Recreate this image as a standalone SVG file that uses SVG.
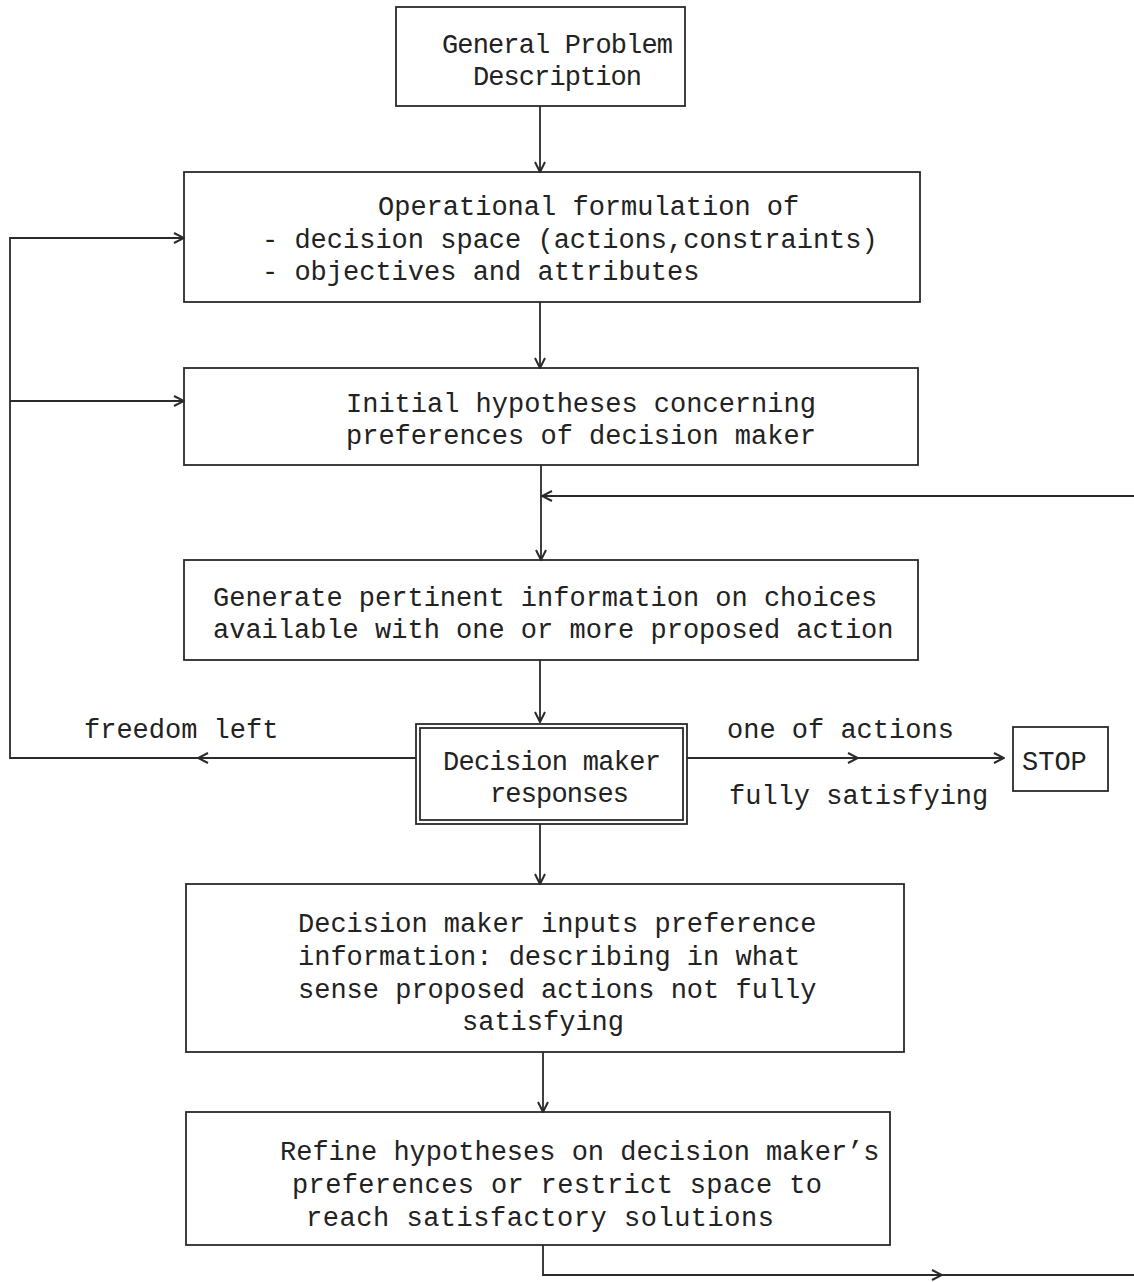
<svg xmlns="http://www.w3.org/2000/svg" width="1134" height="1282" viewBox="0 0 1134 1282">
<style>
.box{fill:none;stroke:#2a2a2a;stroke-width:1.8}
.ln{fill:none;stroke:#2a2a2a;stroke-width:1.8}
text{font-family:"Liberation Mono","Courier New",monospace;font-size:27px;fill:#222}
</style>
<defs>
<marker id="ah" viewBox="0 0 12 12" refX="11" refY="6" markerWidth="12" markerHeight="12" markerUnits="userSpaceOnUse" orient="auto">
<path d="M1,1 L11,6 L1,11" fill="none" stroke="#2a2a2a" stroke-width="2"/>
</marker>
</defs>
<rect width="1134" height="1282" fill="#fff"/>
<g id="connectors">
<line class="ln" x1="540" y1="106" x2="540" y2="172" marker-end="url(#ah)"/>
<line class="ln" x1="540" y1="302" x2="540" y2="368" marker-end="url(#ah)"/>
<line class="ln" x1="541" y1="465" x2="541" y2="560" marker-end="url(#ah)"/>
<line class="ln" x1="1134" y1="496" x2="542" y2="496" marker-end="url(#ah)"/>
<line class="ln" x1="540" y1="660" x2="540" y2="722" marker-end="url(#ah)"/>
<line class="ln" x1="416" y1="758" x2="198" y2="758" marker-end="url(#ah)"/>
<polyline class="ln" points="200,758 10,758 10,238 184,238" marker-end="url(#ah)"/>
<line class="ln" x1="10" y1="401" x2="184" y2="401" marker-end="url(#ah)"/>
<line class="ln" x1="687" y1="758" x2="858" y2="758" marker-end="url(#ah)"/>
<line class="ln" x1="856" y1="758" x2="1004" y2="758" marker-end="url(#ah)"/>
<line class="ln" x1="540" y1="824" x2="540" y2="884" marker-end="url(#ah)"/>
<line class="ln" x1="543" y1="1052" x2="543" y2="1112" marker-end="url(#ah)"/>
<polyline class="ln" points="543,1245 543,1275 942,1275" marker-end="url(#ah)"/>
<line class="ln" x1="940" y1="1275" x2="1134" y2="1275"/>
</g>
<g id="general-problem">
<rect class="box" x="396" y="7" width="289" height="99"/>
<text x="442" y="53" textLength="231">General Problem</text>
<text x="473" y="85" textLength="169">Description</text>
</g>
<g id="operational-formulation">
<rect class="box" x="184" y="172" width="736" height="130"/>
<text x="378" y="215">Operational formulation of</text>
<text x="262" y="248">- decision space (actions,constraints)</text>
<text x="262" y="280">- objectives and attributes</text>
</g>
<g id="initial-hypotheses">
<rect class="box" x="184" y="368" width="734" height="97"/>
<text x="346" y="412">Initial hypotheses concerning</text>
<text x="346" y="444">preferences of decision maker</text>
</g>
<g id="generate-information">
<rect class="box" x="184" y="560" width="734" height="100"/>
<text x="213" y="606">Generate pertinent information on choices</text>
<text x="213" y="638">available with one or more proposed action</text>
</g>
<g id="dm-responses">
<rect class="box" x="416" y="724" width="271" height="100"/>
<rect class="box" x="420" y="728" width="263" height="92"/>
<text x="443" y="770" textLength="218">Decision maker</text>
<text x="490" y="802" textLength="139">responses</text>
</g>
<g id="stop">
<rect class="box" x="1013" y="727" width="95" height="64"/>
<text x="1022" y="770">STOP</text>
</g>
<g id="labels">
<text x="84" y="738">freedom left</text>
<text x="727" y="738">one of actions</text>
<text x="729" y="804">fully satisfying</text>
</g>
<g id="dm-inputs">
<rect class="box" x="186" y="884" width="718" height="168"/>
<text x="298" y="932">Decision maker inputs preference</text>
<text x="298" y="965">information: describing in what</text>
<text x="298" y="998">sense proposed actions not fully</text>
<text x="462" y="1030">satisfying</text>
</g>
<g id="refine">
<rect class="box" x="186" y="1112" width="704" height="133"/>
<text x="280" y="1160">Refine hypotheses on decision maker’s</text>
<text x="292" y="1193" textLength="530">preferences or restrict space to</text>
<text x="306" y="1226" textLength="468">reach satisfactory solutions</text>
</g>
</svg>
